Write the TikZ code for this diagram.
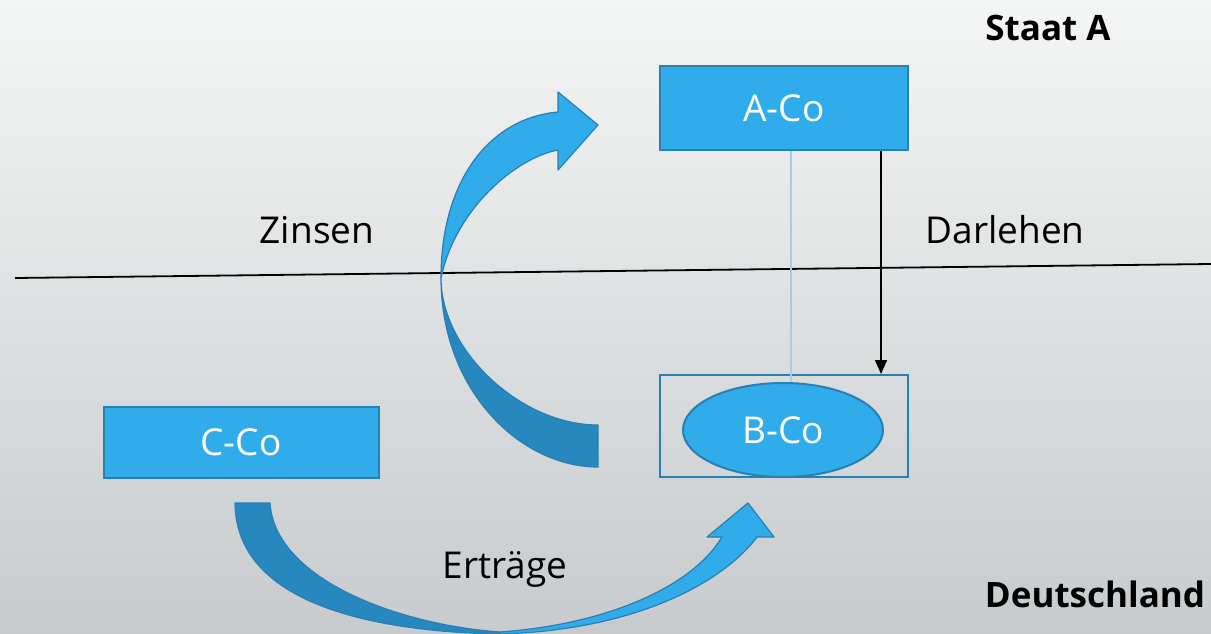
\documentclass[tikz,border=0pt]{standalone}
\usepackage{fontspec}
\setmainfont{Open Sans}
\usetikzlibrary{shapes.geometric,arrows.meta}

\definecolor{boxblue}{RGB}{49,172,234}
\definecolor{darkblue}{RGB}{38,136,190}
\definecolor{edgeblue}{RGB}{41,126,178}
\definecolor{paleblue}{RGB}{165,204,238}
\definecolor{bgtop}{RGB}{244,245,245}
\definecolor{bgbot}{RGB}{199,203,205}

\begin{document}
\begin{tikzpicture}[x=1pt,y=-1pt,
  company/.style={draw=edgeblue, line width=2pt, fill=boxblue, text=white,
    font=\fontsize{37}{44}\selectfont, inner sep=0pt},
  frame/.style={draw=edgeblue, line width=2pt, inner sep=0pt},
  caption/.style={font=\fontsize{37}{44}\selectfont, anchor=base},
  heading/.style={font=\bfseries\fontsize{35}{42}\selectfont, anchor=base},
  ribbonlight/.style={fill=boxblue, draw=edgeblue, line width=1.2pt, line join=round},
  ribbondark/.style={fill=darkblue, draw=edgeblue, line width=1.2pt, line join=round},
  link/.style={paleblue, line width=1.2pt},
  flow/.style={black, line width=1.3pt, -{Triangle[width=12pt,length=14pt]}}
]
% background
\useasboundingbox (0,0) rectangle (1211,634);
\fill[top color=bgtop, bottom color=bgbot] (0,0) rectangle (1211,634);

% border between the two states
\coordinate (divL) at (15,278);
\coordinate (divR) at (1211,264);
\draw[black, line width=1.8pt] (divL) -- (divR);

% headings
\node[heading] (staat) at (1048,41) {Staat A};
\node[heading] (de) at (1095,607) {Deutschland};

% companies
\node[company, minimum width=248, minimum height=84] (aco) at (784,108) {A-Co};
\node[frame, minimum width=248, minimum height=102] (bbox) at (784,426) {};
\node[company, ellipse, minimum width=200, minimum height=94] (bco) at (783,430) {B-Co};
\node[company, minimum width=275, minimum height=71] (cco) at (241,442) {C-Co};

% labels
\node[caption] (zinsen) at (317,243) {Zinsen};
\node[caption] (darlehen) at (1005,243) {Darlehen};
\node[caption] (ertraege) at (505,578) {Erträge};

% links between A-Co and B-Co
\draw[link] ([xshift=7pt]aco.south) -- ([xshift=7pt]aco.south |- bco.north);
\draw[flow] ([xshift=97pt]aco.south) -- ([xshift=97pt]aco.south |- bbox.north);

% curved arrow: interest flowing back to A-Co
\filldraw[ribbondark] (598,467) -- (598,425)
  .. controls (520,425) and (441,350) .. (441,278)
  .. controls (441,390) and (520,467) .. (598,467) -- cycle;
\filldraw[ribbonlight] (441,278)
  .. controls (441,180) and (490,118) .. (558,112)
  -- (558,92) -- (598,125) -- (558,170) -- (558,150)
  .. controls (515,158) and (455,210) .. (441,278) -- cycle;

% curved arrow: returns from C-Co to B-Co
\filldraw[ribbondark] (235,503) -- (270,503)
  .. controls (275,580) and (400,625) .. (500,632)
  -- (500,634)
  .. controls (390,632) and (236,610) .. (235,503) -- cycle;
\filldraw[ribbonlight] (500,634)
  .. controls (640,630) and (725,580) .. (757,537)
  -- (774,537) -- (748,503) -- (707,537) -- (722,537)
  .. controls (690,590) and (600,625) .. (500,632) -- cycle;
\end{tikzpicture}
\end{document}
